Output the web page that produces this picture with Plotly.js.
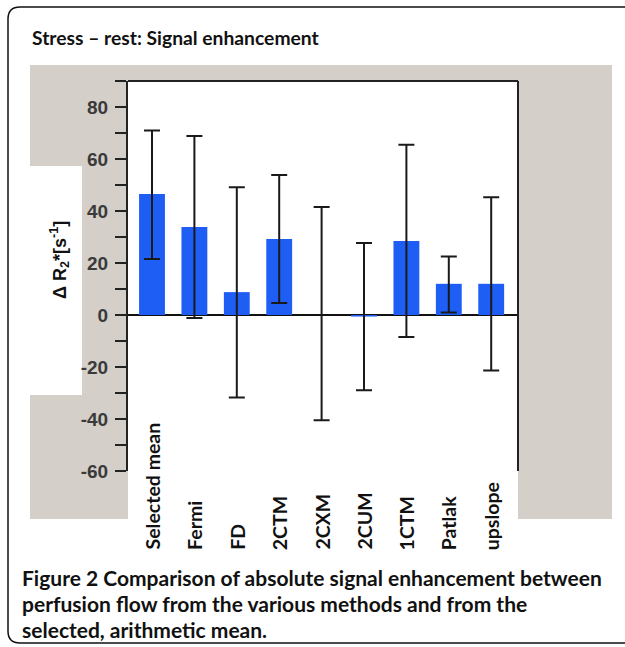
<!DOCTYPE html>
<html>
<head>
<meta charset="utf-8">
<script src="https://cdn.plot.ly/plotly-3.0.1.min.js"></script>
<style>html,body{margin:0;padding:0;background:#fff;}#chart{width:625px;height:647px;}</style>
</head>
<body>
<div id="chart"></div>
<script>
// ---- data ----
const categories = ["Selected mean", "Fermi", "FD", "2CTM", "2CXM", "2CUM", "1CTM", "Patlak", "upslope"];
const values     = [46.5, 33.8, 8.8, 29.2, 0, -0.6, 28.5, 12.0, 12.0];
const errPlus    = [24.5, 35.0, 40.3, 24.6, 41.5, 28.3, 37.0, 10.5, 33.3];
const errMinus   = [25.0, 35.0, 40.5, 24.6, 40.5, 28.3, 37.0, 11.0, 33.3];
const yTickVals  = [-60, -40, -20, 0, 20, 40, 60, 80];
const yTickText  = ["-60", "-40", "-20", "0", "20", "40", "60", "80"];
const titleText  = "Stress – rest: Signal enhancement";
const yTitleText = "Δ R<sub>2</sub>*[s<sup>-1</sup>]";
const captionLines = [
  "<b>Figure 2</b> Comparison of absolute signal enhancement between",
  "perfusion flow from the various methods and from the",
  "selected, arithmetic mean."
];

// ---- layout helpers (pixel -> paper) ----
const W = 625, H = 647;
const L = 128, R = 518, T = 81, B = 471;
const pw = R - L, ph = B - T;
const px = x => (x - L) / pw;
const py = y => (B - y) / ph;

const gray = '#d4cfc8';
const rad = 12 / pw;
const fx0 = px(8), fx1 = px(640), fy0 = py(7), fy1 = py(643);
const framePath =
  `M ${fx0 + rad} ${fy0} L ${fx1} ${fy0} L ${fx1} ${fy1} L ${fx0 + rad} ${fy1} ` +
  `Q ${fx0} ${fy1} ${fx0} ${fy1 + rad} L ${fx0} ${fy0 - rad} Q ${fx0} ${fy0} ${fx0 + rad} ${fy0} Z`;

const shapes = [
  {type: 'path', xref: 'paper', yref: 'paper', path: framePath, line: {color: '#111', width: 1.5}, fillcolor: 'rgba(0,0,0,0)', layer: 'below'},
  {type: 'rect', xref: 'paper', yref: 'paper', x0: px(30), x1: px(612), y0: py(65), y1: py(519), fillcolor: gray, line: {width: 0}, layer: 'below'},
  {type: 'rect', xref: 'paper', yref: 'paper', x0: px(30), x1: px(82), y0: py(166), y1: py(395), fillcolor: '#fff', line: {width: 0}, layer: 'below'},
  {type: 'rect', xref: 'paper', yref: 'paper', x0: 0, x1: 1, y0: py(519), y1: 1, fillcolor: '#fff', line: {width: 0}, layer: 'below'},
  {type: 'line', xref: 'paper', yref: 'paper', x0: 0, x1: 1, y0: 1, y1: 1, line: {color: '#222', width: 2}},
  {type: 'line', xref: 'paper', yref: 'paper', x0: 1, x1: 1, y0: 0, y1: 1, line: {color: '#222', width: 2}}
];

const annotations = [];
categories.forEach(c => annotations.push({
  x: c, xref: 'x', y: py(552), yref: 'paper', text: c, textangle: -90,
  xanchor: 'center', yanchor: 'bottom', showarrow: false,
  font: {family: 'Lato, sans-serif', size: 19.5, color: '#111', weight: 700}
}));
annotations.push({
  x: px(59), xref: 'paper', y: py(260), yref: 'paper', text: yTitleText, textangle: -90,
  xanchor: 'center', yanchor: 'middle', showarrow: false,
  font: {family: 'Liberation Sans, Arial, sans-serif', size: 18, color: '#111', weight: 700}
});
const capY = [577, 603, 629];
captionLines.forEach((t, i) => annotations.push({
  x: px(20), xref: 'paper', y: py(capY[i]), yref: 'paper', text: t,
  xanchor: 'left', yanchor: 'middle', showarrow: false, align: 'left',
  font: {family: 'Lato, sans-serif', size: 21, color: '#111', weight: 700}
}));

const trace = {
  type: 'bar', x: categories, y: values,
  marker: {color: '#1f5ef5', line: {width: 0}},
  error_y: {type: 'data', symmetric: false, array: errPlus, arrayminus: errMinus, color: '#1a1a1a', thickness: 2, width: 8},
  hoverinfo: 'none'
};

const layout = {
  width: W, height: H,
  margin: {l: L, r: W - R, t: T, b: H - B, pad: 0},
  paper_bgcolor: '#fff', plot_bgcolor: '#fff',
  showlegend: false,
  bargap: 0.39,
  title: {text: titleText, xref: 'container', yref: 'container', x: 32 / W, xanchor: 'left', y: 1 - 38 / H, yanchor: 'middle',
          font: {family: 'Lato, sans-serif', size: 19.3, color: '#111', weight: 700}},
  xaxis: {type: 'category', range: [-0.566, 8.632], showticklabels: false, showline: false, showgrid: false, zeroline: false, ticks: '', fixedrange: true},
  yaxis: {range: [-60, 90], tickvals: yTickVals, ticktext: yTickText, ticks: 'outside', ticklen: 11, tickwidth: 2, tickcolor: '#222',
          minor: {tickvals: [-50, -30, -10, 10, 30, 50, 70, 90], ticks: 'outside', ticklen: 11, tickwidth: 2, tickcolor: '#222'},
          showline: true, linecolor: '#222', linewidth: 2, showgrid: false,
          zeroline: true, zerolinecolor: '#111', zerolinewidth: 1.5,
          ticklabelstandoff: 3,
          tickfont: {family: 'Liberation Sans, Arial, sans-serif', size: 19, color: '#3a3a3a', weight: 700}, fixedrange: true},
  shapes: shapes,
  annotations: annotations
};

Plotly.newPlot('chart', [trace], layout, {displayModeBar: false, staticPlot: true});
</script>
</body>
</html>
